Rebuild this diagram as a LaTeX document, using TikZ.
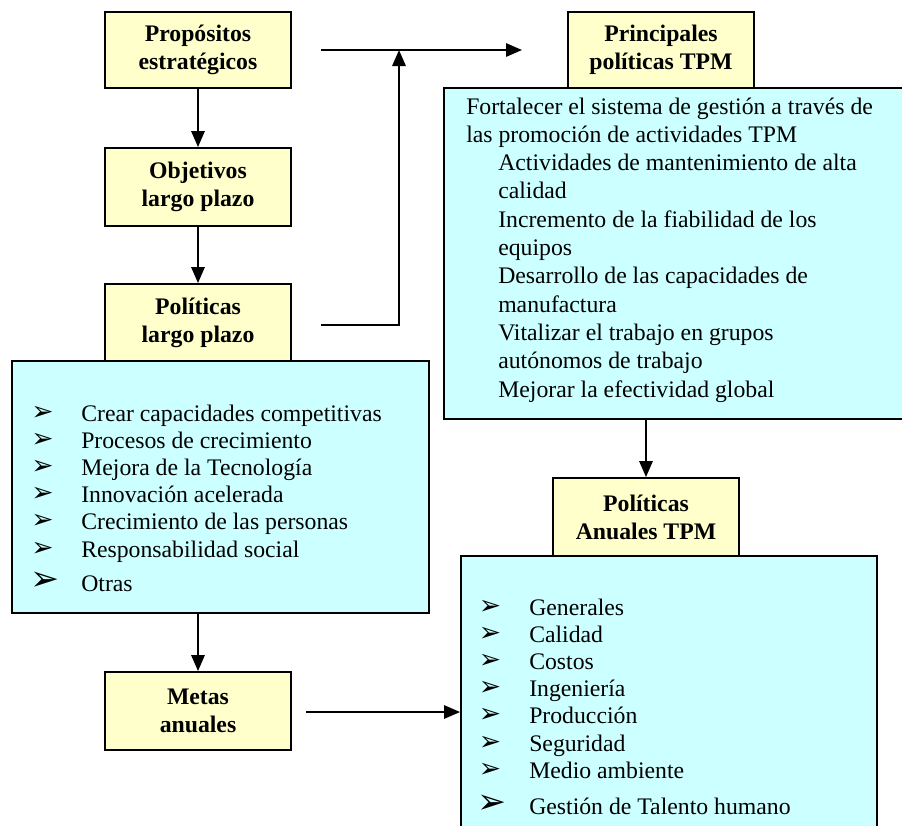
\documentclass[tikz,border=0pt]{standalone}
\usepackage{fontspec}
\setmainfont{Liberation Serif}
\newfontfamily\symfont{DejaVu Sans}
\usetikzlibrary{arrows.meta}
\definecolor{boxyellow}{HTML}{FFFFCC}
\definecolor{boxblue}{HTML}{CCFFFF}
\begin{document}
\begin{tikzpicture}[x=0.75pt,y=-0.75pt,
  ybox/.style={draw=black, fill=boxyellow, line width=1.4pt, inner sep=0pt,
    align=center, minimum width=139.5pt, font=\bfseries\fontsize{17.8}{21}\selectfont},
  bbox/.style={draw=black, fill=boxblue, line width=1.4pt, inner sep=0pt},
  txt/.style={inner sep=0pt, anchor=base west, font=\fontsize{17.8}{21}\selectfont},
  bulsmall/.style={inner sep=0pt, anchor=center, font=\symfont\fontsize{20}{20}\selectfont},
  bulbig/.style={inner sep=0pt, anchor=center, font=\symfont\fontsize{26}{26}\selectfont},
  arr/.style={line width=1.5pt, -{Triangle[length=12pt,width=10pt]}}]
\useasboundingbox (0,0) rectangle (902,825);
\clip (0,0) rectangle (902,825);

% blue boxes
\node[bbox, minimum width=312.75pt, minimum height=189pt] (leftlist) at (220.5,487) {};
\node[bbox, minimum width=344.25pt, minimum height=248.25pt] (tpmbox) at (673.5,253.5) {};
\node[bbox, minimum width=312pt, minimum height=205.5pt] (anuallist) at (669,693) {};

% yellow boxes
\node[ybox, minimum height=57pt] (prop) at (198,50) {Propósitos\\estratégicos};
\node[ybox, minimum height=58.5pt] (obj) at (198,187) {Objetivos\\largo plazo};
\node[ybox, minimum height=57.75pt] (pol) at (198,322.5) {Políticas\\largo plazo};
\node[ybox, minimum height=58.5pt] (metas) at (198,711) {Metas\\anuales};
\node[ybox, minimum height=57pt] (princ) at (661,50) {Principales\\políticas TPM};
\node[ybox, minimum height=58.5pt] (anual) at (646,517) {Políticas\\Anuales TPM};

% left list
\foreach \t [count=\i from 0] in {Crear capacidades competitivas,Procesos de crecimiento,Mejora de la Tecnología,Innovación acelerada,Crecimiento de las personas,Responsabilidad social}{
  \node[txt] (ll\i) at (81,{421+27.2*\i}) {\t};
  \node[bulsmall] (lb\i) at (42.5,{421+27.2*\i-8}) {➢};
}
\node[txt] (ll6) at (81,591) {Otras};
\node[bulbig] (lb6) at (45,581) {➢};

% right bottom list
\foreach \t [count=\i from 0] in {Generales,Calidad,Costos,Ingeniería,Producción,Seguridad,Medio ambiente}{
  \node[txt] (rl\i) at (529,{615+27.2*\i}) {\t};
  \node[bulsmall] (rb\i) at (490,{615+27.2*\i-8}) {➢};
}
\node[txt] (rl7) at (529,814) {Gestión de Talento humano};
\node[bulbig] (rb7) at (492.5,804) {➢};

% top right text
\node[txt] (tp0) at (466,114) {Fortalecer el sistema de gestión a través de};
\node[txt] (tp1) at (466,142.3) {las promoción de actividades TPM};
\foreach \t [count=\i from 2] in {Actividades de mantenimiento de alta,calidad,Incremento de la fiabilidad de los,equipos,Desarrollo de las capacidades de,manufactura,Vitalizar el trabajo en grupos,autónomos de trabajo,Mejorar la efectividad global}{
  \node[txt] (tp\i) at (498,{114+28.3*\i}) {\t};
}

% connectors
\draw[arr] (prop.south) -- (obj.north);
\draw[arr] (obj.south) -- (pol.north);
\draw[arr] (metas.north |- leftlist.south) -- (metas.north);
\draw[arr] (anual.north |- tpmbox.south) -- (anual.north);
\coordinate (t1) at (321,50);
\coordinate (t2) at (522,50);
\draw[arr] (t1) -- (t2);
\coordinate (u1) at (321,325);
\coordinate (u2) at (399,50);
\draw[arr] (u1) -| (u2);
\coordinate (m1) at (306,712);
\draw[arr] (m1) -- (m1 -| anuallist.west);
\end{tikzpicture}
\end{document}
